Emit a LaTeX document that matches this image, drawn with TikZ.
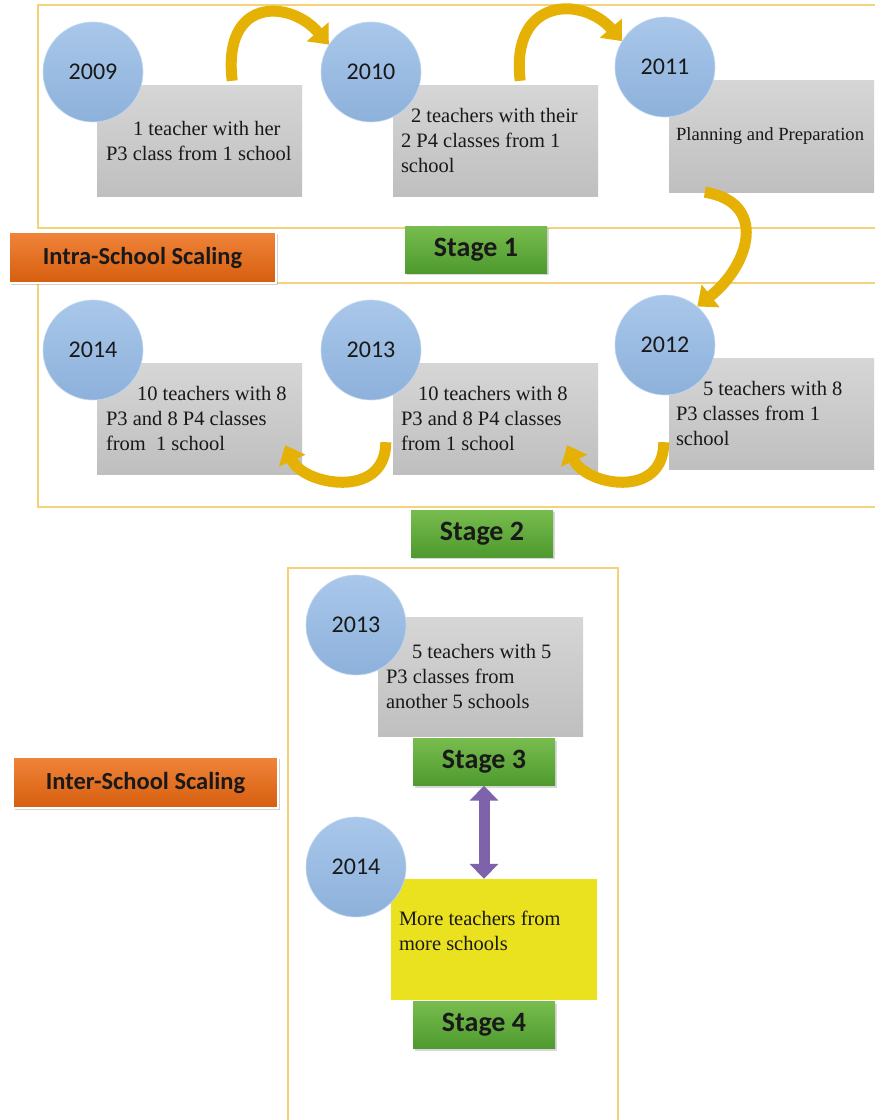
\documentclass[tikz,border=0pt]{standalone}
\usepackage{fontspec}
\setmainfont{Liberation Serif}
\newfontfamily\calib{Carlito}
\usetikzlibrary{arrows.meta,shadows,calc}
\definecolor{framecol}{HTML}{F4D27A}
\definecolor{circtop}{HTML}{A9C7EA}
\definecolor{circbot}{HTML}{8DB1DB}
\definecolor{graytop}{HTML}{D6D6D6}
\definecolor{graybot}{HTML}{BFBFBF}
\definecolor{orangetop}{HTML}{F0843A}
\definecolor{orangebot}{HTML}{D65E0E}
\definecolor{greentop}{HTML}{78BC4E}
\definecolor{greenbot}{HTML}{4E9A2E}
\definecolor{goldcol}{HTML}{E4B104}
\definecolor{purplecol}{HTML}{7E62AA}
\definecolor{yellowbox}{HTML}{EBE21F}
\begin{document}
\begin{tikzpicture}[x=1pt,y=-1pt,
  frameline/.style={draw=framecol,line width=1.5pt},
  yearcirc/.style={circle,minimum size=100pt,inner sep=0pt,top color=circtop,bottom color=circbot,draw=circtop!70!white,line width=0.6pt,font=\calib\fontsize{24}{28}\selectfont,text=black!90},
  gbox/.style={rectangle,minimum width=205pt,minimum height=111pt,inner sep=0pt,top color=graytop,bottom color=graybot},
  btext/.style={anchor=west,align=left,inner sep=0pt,font=\fontsize{20.5}{25}\selectfont,text=black!90},
  scalebox/.style={rectangle,minimum width=267pt,minimum height=51pt,top color=orangetop,bottom color=orangebot,draw=white,line width=1.5pt,drop shadow={opacity=0.35,shadow xshift=1.5pt,shadow yshift=-2pt},font=\calib\bfseries\fontsize{24.5}{28}\selectfont,text=black!90},
  stagebox/.style={rectangle,minimum width=142pt,minimum height=47pt,top color=greentop,bottom color=greenbot,drop shadow={opacity=0.3,shadow xshift=1.5pt,shadow yshift=-2pt},font=\calib\bfseries\fontsize{28}{32}\selectfont,text=black!90},
  goldarr/.style={draw=goldcol,line width=11pt,-{Triangle[length=17pt,width=28pt]}},
  purarr/.style={draw=purplecol,line width=11pt,{Triangle[length=15pt,width=28pt]}-{Triangle[length=15pt,width=28pt]}}
]
\useasboundingbox (0,0) rectangle (875,1120);
\clip (0,0) rectangle (875,1120);
\fill[white] (0,0) rectangle (875,1120);

% frames
\draw[frameline] (38,5) rectangle (900,228);
\draw[frameline] (38,283) rectangle (900,507);
\draw[frameline] (288,568) rectangle (618,1140);

% gray boxes row 1
\node[gbox] (b2009) at (199.5,140.5) {};
\node[gbox] (b2010) at (495.5,140.5) {};
\node[gbox,minimum height=112pt] (b2011) at (771.5,136) {};
% gray boxes row 2
\node[gbox] (b2014) at (199.5,418.5) {};
\node[gbox] (b2013) at (495.5,418.5) {};
\node[gbox] (b2012) at (771.5,413.5) {};
% inter-school boxes
\node[gbox,minimum height=119pt] (bi2013) at (480.5,676.5) {};
\node[rectangle,minimum width=206pt,minimum height=121pt,inner sep=0pt,fill=yellowbox] (ybox) at (494,939.5) {};

% box texts
\node[btext] (t2009) at ($(b2009.west)+(9,0)$) {\hspace*{27pt}1 teacher with her\\P3 class from 1 school};
\node[btext] (t2010) at ($(b2010.west)+(8,0)$) {\hspace*{10pt}2 teachers with their\\2 P4 classes from 1\\school};
\node[btext,font=\fontsize{18.6}{23}\selectfont] (t2011) at ($(b2011.west)+(7,0)$) {Planning and Preparation};
\node[btext] (t2014) at ($(b2014.west)+(9,0)$) {\hspace*{31pt}10 teachers with 8\\P3 and 8 P4 classes\\from\ \ 1 school};
\node[btext] (t2013) at ($(b2013.west)+(8,0)$) {\hspace*{17pt}10 teachers with 8\\P3 and 8 P4 classes\\from 1 school};
\node[btext] (t2012) at ($(b2012.west)+(7,0)$) {\hspace*{27pt}5 teachers with 8\\P3 classes from 1\\school};
\node[btext] (ti2013) at ($(bi2013.west)+(8,0)$) {\hspace*{26pt}5 teachers with 5\\P3 classes from\\another 5 schools};
\node[btext] (ytext) at ($(ybox.west)+(8,-9)$) {More teachers from\\more schools};

% circles
\node[yearcirc] (c2009) at (93,72) {2009};
\node[yearcirc] (c2010) at (371,72) {2010};
\node[yearcirc] (c2011) at (665,67) {2011};
\node[yearcirc] (c2014) at (93,350) {2014};
\node[yearcirc] (c2013) at (371,350) {2013};
\node[yearcirc] (c2012) at (665,345) {2012};
\node[yearcirc] (ci2013) at (356,625) {2013};
\node[yearcirc] (ci2014) at (356,867) {2014};

% labels
\node[scalebox] (intra) at (142.5,257.5) {Intra-School Scaling};
\node[scalebox,minimum width=265pt] (inter) at (145.5,782.5) {Inter-School Scaling};
\node[stagebox] (st1) at (476,249.5) {Stage 1};
\node[stagebox] (st2) at (482,533.5) {Stage 2};
\node[stagebox] (st3) at (484,762) {Stage 3};
\node[stagebox] (st4) at (484,1025) {Stage 4};

% gold curved arrows
\draw[goldarr] ($(b2009.north east)+(-70,-4)$) .. controls +(-10,-84) and +(-39,-45) .. (c2010.147);
\draw[goldarr] ($(b2010.north east)+(-78,-4)$) .. controls +(-10,-84) and +(-39,-45) .. (c2011.149);
\draw[goldarr] ($(b2011.south west)+(36,0)$) .. controls +(63,10) and +(53,-42) .. (c2012.50);
\draw[goldarr] ($(b2012.south west)+(-5,-27)$) .. controls +(0,58) and +(18,40) .. ($(b2013.south east)+(-31,-29)$);
\draw[goldarr] ($(b2013.south west)+(-7,-32)$) .. controls +(0,58) and +(18,40) .. ($(b2014.south east)+(-17,-29)$);

% purple double arrow
\draw[purarr] (st3.south) -- (st3.south |- ybox.north);
\end{tikzpicture}
\end{document}
